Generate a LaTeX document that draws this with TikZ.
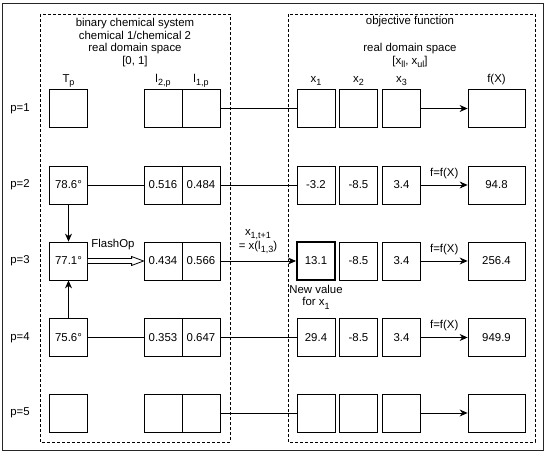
\documentclass[tikz,border=0pt]{standalone}
\usepackage{fontspec}
\setmainfont{Liberation Sans}
\usetikzlibrary{arrows.meta,calc}
\newcommand{\lowsub}[1]{\raisebox{-0.3em}{\fontsize{9}{9}\selectfont #1}}
\begin{document}
\begin{tikzpicture}[x=1pt,y=-1pt,
  txt/.style={font=\fontsize{11.4}{12.8}\selectfont},
  cell/.style={draw, line width=0.8pt, minimum width=38pt, minimum height=38pt, inner sep=0pt, txt},
  wcell/.style={cell, minimum width=57pt},
  bold/.style={line width=2pt},
  lab/.style={txt, inner sep=0pt, align=center},
  conn/.style={line width=0.8pt},
  arr/.style={line width=0.8pt, -{Stealth[length=8pt,width=7pt]}},
  region/.style={draw, line width=0.8pt, dash pattern=on 3pt off 2pt},
  frame/.style={draw, line width=1pt, black!85}]
\useasboundingbox (0,0) rectangle (550,458);
\draw[frame] (2,3) rectangle (543,450);
\draw[region] (40,14) rectangle (230,442);
\draw[region] (288,14) rectangle (535,442);

% headings
\node[lab] (hleft) at (135,42.5) {binary chemical system\\chemical 1/chemical 2\\real domain space\\{[0, 1]}};
\node[lab] (hobj) at (410,22) {objective function};
\node[lab] (hright) at (410,55.5) {real domain space\\{[x\lowsub{ll}, x\lowsub{ul}]}};

% column labels
\node[lab] (ct) at (68.5,81) {T\lowsub{p}};
\node[lab] (ca) at (163,81) {l\lowsub{2,p}};
\node[lab] (cb) at (201,81) {l\lowsub{1,p}};
\node[lab] (cx1) at (316,81) {x\lowsub{1}};
\node[lab] (cx2) at (358.5,81) {x\lowsub{2}};
\node[lab] (cx3) at (401.5,81) {x\lowsub{3}};
\node[lab] (cf) at (496.5,80) {f(X)};

% rows
\foreach \r/\y/\T/\A/\B/\X/\Y/\Z/\F/\S in {
  1/108.5/{}/{}/{}/{}/{}/{}/{}/{},
  2/185/{78.6°}/0.516/0.484/-3.2/-8.5/3.4/94.8/{},
  3/261/{77.1°}/0.434/0.566/13.1/-8.5/3.4/256.4/bold,
  4/337.5/{75.6°}/0.353/0.647/29.4/-8.5/3.4/949.9/{},
  5/413/{}/{}/{}/{}/{}/{}/{}/{}} {
  \node[lab] (p\r) at (20,\y) {p=\r};
  \node[cell] (t\r) at (68.5,\y) {\T};
  \node[cell] (a\r) at (163,\y) {\A};
  \node[cell] (b\r) at (201,\y) {\B};
  \node[cell,\S] (xa\r) at (316,\y) {\X};
  \node[cell] (xb\r) at (358.5,\y) {\Y};
  \node[cell] (xc\r) at (401.5,\y) {\Z};
  \node[wcell] (f\r) at (496.5,\y) {\F};
}

% row 1
\draw[conn] (b1.east) -- (xa1.west);
\draw[arr] (xc1.east) -- (f1.west);
% row 2
\draw[conn] (t2.east) -- (a2.west);
\draw[conn] (b2.east) -- (xa2.west);
\draw[arr] (xc2.east) -- node[lab, above=6pt] (ff2) {f=f(X)} (f2.west);
% vertical
\draw[arr] (t2.south) -- (t3.north);
\draw[arr] (t4.north) -- (t3.south);
% row 3
\draw[line width=0.8pt, fill=white] ($(t3.east)+(0,-2.5)$) -- ($(a3.west)+(-12,-2.5)$) -- ($(a3.west)+(-12,-4.5)$) -- (a3.west) -- ($(a3.west)+(-12,4.5)$) -- ($(a3.west)+(-12,2.5)$) -- ($(t3.east)+(0,2.5)$);
\node[lab] (flash) at (113,245) {FlashOp};
\draw[arr] (b3.east) -- (xa3.west);
\node[lab] (upd) at (258,241.5) {x\lowsub{1,t+1}\\= x(l\lowsub{1,3})};
\draw[arr] (xc3.east) -- node[lab, above=6pt] (ff3) {f=f(X)} (f3.west);
\node[lab] (newv) at (316,297) {New value\\for x\lowsub{1}};
% row 4
\draw[conn] (t4.east) -- (a4.west);
\draw[conn] (b4.east) -- (xa4.west);
\draw[arr] (xc4.east) -- node[lab, above=6pt] (ff4) {f=f(X)} (f4.west);
% row 5
\draw[conn] (b5.east) -- (xa5.west);
\draw[arr] (xc5.east) -- (f5.west);
\end{tikzpicture}
\end{document}
